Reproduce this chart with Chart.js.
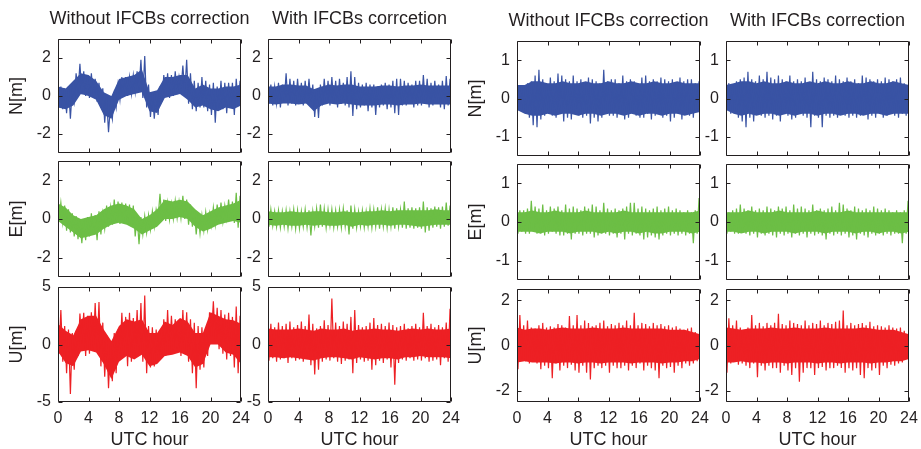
<!DOCTYPE html>
<html>
<head>
<meta charset="utf-8">
<script src="https://cdn.jsdelivr.net/npm/chart.js@4.4.1/dist/chart.umd.min.js"></script>
<style>
  html, body { margin: 0; padding: 0; background: #fff; overflow: hidden; }
  body { width: 921px; height: 449px; position: relative; font-family: "Liberation Sans", Arial, sans-serif; }
  canvas { position: absolute; }
  .head { position: absolute; width: 260px; text-align: center; font-size: 18px; line-height: 18px; color: #231f20; white-space: nowrap; }
</style>
</head>
<body>
<script>
// Eixos
const hourTicks = [0, 4, 8, 12, 16, 20, 24];
const leftNETicks = [-2, 0, 2];
const leftUTicks = [-5, 0, 5];
const rightNETicks = [-1, 0, 1];
const rightUTicks = [-2, 0, 2];
const headers = ['Without IFCBs correction', 'With IFCBs corrcetion', 'Without IFCBs correction', 'With IFCBs correction'];

// Envelope (max/min) de cada meia hora: 48 intervalos de 0 a 24 h
const binHours = Array.from({ length: 48 }, (_, i) => i * 0.5);
// Faixa densa (nucleo) lida a cada hora, de 0 a 24 h
const coreHours = Array.from({ length: 25 }, (_, i) => i);

// Grupo esquerdo - N
const lNWithoutHi = [0.5,0.4,0.5,0.4,1.2,1.7,1.3,1.1,1.2,0.9,0.7,0.4, -0.1,-0.5,0.1,0.6,1.0,1.0,1.0,1.1,1.3,1.9,2.1,0.6, 0.2,0.1,0.5,1.1,1.2,1.1,1.3,1.0,1.6,1.9,1.2,0.8, 0.7,1.0,0.8,0.6,0.7,0.5,0.8,0.7,0.7,0.7,0.9,0.8];
const lNWithoutLo = [-0.5,-0.7,-0.9,-1.2,-0.3,0.2,0.1,0.0,-0.1,0.0,-0.3,-0.6, -1.4,-1.9,-1.2,-0.6,-0.2,0.0,0.0,0.1,0.2,0.3,-0.1,-0.6, -1.1,-1.2,-1.0,-0.3,0.0,-0.1,0.0,0.1,0.3,0.2,-0.4,-0.7, -0.8,-0.6,-0.6,-0.8,-1.0,-1.4,-0.6,-0.7,-0.9,-0.6,-1.0,-0.5];
const lNWithoutCoreHi = [0.5,0.4,0.8,1.2,1.1,0.8,0.2,0.0,0.9,1.0,1.1,1.4,0.2,0.3,1.0,1.0,1.1,1.1,0.4,0.6,0.4,0.4,0.5,0.5,0.6];
const lNWithoutCoreLo = [-0.6,-0.7,-0.5,0.1,0.0,-0.2,-1.0,-1.2,-0.2,0.0,0.1,0.2,-0.8,-0.9,-0.1,0.0,0.1,-0.2,-0.6,-0.5,-0.7,-0.8,-0.6,-0.7,-0.5];
const lNWithHi = [0.6,0.5,0.7,0.6,1.2,0.9,0.8,0.9,0.7,0.8,0.9,0.6, 0.3,0.6,0.9,0.8,1.0,0.8,0.9,0.7,1.0,1.3,1.0,0.7, 0.6,0.7,0.6,0.6,0.5,0.6,0.7,0.6,0.8,0.9,0.9,0.8, 0.7,0.6,0.8,0.8,1.1,0.9,0.7,0.8,0.6,0.8,1.05,0.9];
const lNWithLo = [-0.4,-0.5,-0.4,-0.6,-0.3,-0.5,-0.4,-0.5,-0.3,-0.5,-0.4,-0.3, -1.1,-1.15,-0.5,-0.4,-0.5,-0.4,-0.6,-0.4,-0.5,-0.6,-1.05,-0.7, -0.6,-0.5,-0.8,-0.6,-1.0,-0.6,-0.5,-0.7,-0.6,-0.9,-1.0,-0.5, -0.5,-0.4,-0.6,-0.5,-0.5,-0.4,-0.6,-0.5,-0.4,-0.6,-0.7,-0.5];
const lNWithCoreHi = [0.5,0.5,0.6,0.6,0.55,0.55,0.35,0.5,0.6,0.55,0.6,0.6,0.5,0.5,0.5,0.55,0.55,0.5,0.55,0.55,0.6,0.55,0.55,0.55,0.55];
const lNWithCoreLo = [-0.4,-0.45,-0.4,-0.4,-0.45,-0.4,-0.8,-0.5,-0.4,-0.45,-0.4,-0.45,-0.5,-0.5,-0.5,-0.45,-0.45,-0.5,-0.45,-0.45,-0.4,-0.45,-0.45,-0.45,-0.45];

// Grupo esquerdo - E
const lEWithoutHi = [0.85,0.7,0.5,0.3,0.15,0.0,-0.1,0.1,0.3,0.2,0.4,0.3, 0.7,0.6,1.0,0.9,0.85,0.8,0.75,0.7,0.15,0.1,0.15,0.2, 0.4,0.5,1.3,1.0,0.85,0.8,0.95,0.9,1.2,1.0,0.75,0.5, 0.25,0.2,0.35,0.3,0.6,0.75,0.85,0.7,1.0,0.9,1.35,1.2];
const lEWithoutLo = [-0.05,-0.2,-0.6,-0.7,-0.9,-1.05,-1.25,-1.1,-0.9,-0.8,-1.1,-0.8, -0.5,-0.4,-0.3,-0.2,-0.25,-0.2,-0.3,-0.4,-0.9,-1.3,-0.8,-0.7, -0.55,-0.4,0.05,0.0,-0.1,-0.05,0.0,0.05,0.05,0.0,-0.3,-0.4, -0.8,-0.75,-0.6,-0.55,-0.35,-0.3,-0.2,-0.15,0.0,-0.1,-0.2,-0.45];
const lEWithoutCoreHi = [0.8,0.6,0.2,0.0,0.1,0.2,0.5,0.7,0.8,0.7,0.5,0.0,0.2,0.5,1.0,0.9,1.0,0.9,0.5,0.2,0.4,0.6,0.7,0.8,1.0];
const lEWithoutCoreLo = [-0.1,-0.4,-0.7,-1.0,-0.9,-0.8,-0.5,-0.3,-0.2,-0.3,-0.5,-0.8,-0.6,-0.4,0.0,0.0,0.1,0.0,-0.4,-0.65,-0.5,-0.3,-0.2,-0.1,-0.2];
const lEWithHi = [0.5,0.4,0.45,0.4,0.45,0.4,0.5,0.45,0.4,0.5,0.45,0.4, 0.55,0.75,0.55,0.5,0.5,0.45,0.5,0.55,0.45,0.7,0.5,0.4, 0.45,0.4,0.55,0.5,0.6,0.5,0.55,0.5,0.6,0.55,0.5,0.9, 0.55,0.6,0.55,0.6,0.9,0.6,0.55,0.65,0.6,0.65,0.85,0.7];
const lEWithLo = [-0.4,-0.35,-0.4,-0.45,-0.4,-0.5,-0.4,-0.5,-0.5,-0.4,-0.45,-0.85, -0.4,-0.45,-0.4,-0.45,-0.35,-0.45,-0.4,-0.45,-0.4,-0.8,-0.5,-0.45, -0.4,-0.45,-0.4,-0.45,-0.4,-0.5,-0.4,-0.45,-0.4,-0.5,-0.4,-0.45, -0.5,-0.45,-0.5,-0.45,-0.5,-0.7,-0.6,-0.45,-0.4,-0.5,-0.4,-0.35];
const lEWithCoreHi = [0.4,0.35,0.35,0.4,0.35,0.35,0.4,0.4,0.35,0.35,0.4,0.35,0.35,0.4,0.4,0.45,0.4,0.45,0.45,0.45,0.45,0.45,0.5,0.45,0.45];
const lEWithCoreLo = [-0.3,-0.35,-0.3,-0.35,-0.35,-0.3,-0.35,-0.3,-0.35,-0.35,-0.3,-0.4,-0.3,-0.35,-0.3,-0.3,-0.35,-0.3,-0.3,-0.35,-0.4,-0.35,-0.3,-0.3,-0.3];

// Grupo esquerdo - U
const lUWithoutHi = [3.0,1.6,1.3,1.0,1.2,2.7,2.75,2.5,2.8,3.6,3.7,1.9, 0.8,-0.1,1.0,1.3,2.75,2.4,2.75,2.3,3.0,3.6,4.25,1.6, 1.5,1.3,1.2,2.2,3.0,2.5,2.2,2.0,3.0,2.8,2.2,1.9, 1.6,1.5,1.4,2.8,3.75,3.2,3.0,2.6,2.75,2.4,3.3,2.5];
const lUWithoutLo = [-0.8,-1.5,-2.5,-4.3,-2.2,-1.0,0.1,-1.0,-0.8,-0.4,-0.5,-1.9, -2.8,-3.8,-3.2,-2.5,-1.0,-0.9,-1.9,-1.5,-1.0,-0.9,-1.5,-2.5, -2.0,-1.9,-1.5,-1.0,-1.0,-0.9,-0.4,-0.5,-1.0,-0.8,-1.5,-2.5, -3.8,-2.2,-2.0,-1.0,0.7,0.2,-0.4,-0.8,-1.3,-1.0,-2.0,-2.5];
const lUWithoutCoreHi = [1.8,1.2,0.8,2.2,2.5,2.5,1.3,0.3,1.6,2.2,2.0,2.2,1.0,1.0,2.0,1.7,2.3,2.0,1.0,1.0,2.8,2.5,2.2,2.1,1.8];
const lUWithoutCoreLo = [-0.6,-1.6,-1.9,-0.6,-0.5,-0.7,-1.7,-3.0,-1.5,-1.0,-1.3,-0.9,-1.9,-1.7,-1.0,-0.9,-0.7,-1.0,-2.0,-1.7,0.0,0.0,-0.7,-0.9,-1.7];
const lUWithHi = [1.8,1.5,1.9,1.6,1.8,2.0,1.5,1.7,2.0,1.6,2.6,1.8, 1.4,1.6,2.1,1.7,4.0,1.9,1.6,2.0,1.8,2.4,3.0,1.7, 1.5,1.6,1.9,2.3,1.7,1.8,1.6,1.9,1.7,1.5,1.6,1.8, 1.4,1.6,1.8,1.5,2.75,1.6,1.8,1.5,1.7,1.5,1.9,3.1];
const lUWithLo = [-1.4,-1.2,-1.5,-1.3,-1.2,-1.6,-1.2,-1.4,-1.3,-1.5,-1.2,-1.8, -2.6,-2.2,-1.5,-1.3,-1.4,-1.2,-1.5,-1.7,-1.4,-1.3,-2.5,-1.6, -1.3,-1.5,-1.4,-2.2,-1.8,-1.4,-1.6,-1.3,-2.0,-3.5,-1.6,-1.3, -1.4,-1.2,-1.4,-1.3,-1.4,-1.2,-1.5,-1.4,-1.3,-1.8,-1.2,-1.5];
const lUWithCoreHi = [1.4,1.3,1.3,1.3,1.4,1.3,1.2,1.4,1.3,1.3,1.4,1.2,1.3,1.3,1.4,1.3,1.3,1.2,1.3,1.4,1.3,1.4,1.3,1.3,1.4];
const lUWithCoreLo = [-1.1,-1.1,-1.2,-1.1,-1.2,-1.3,-1.4,-1.2,-1.1,-1.1,-1.2,-1.3,-1.1,-1.2,-1.3,-1.2,-1.2,-1.3,-1.1,-1.1,-1.0,-1.1,-1.1,-1.1,-1.2];

// Grupo direito - N
const rNWithoutHi = [0.35,0.3,0.4,0.45,0.6,0.75,0.5,0.4,0.55,0.45,0.65,0.6, 0.5,0.45,0.6,0.45,0.5,0.4,0.55,0.5,0.45,0.4,0.75,0.45, 0.5,0.5,0.4,0.6,0.45,0.5,0.45,0.4,0.55,0.6,0.45,0.5, 0.45,0.55,0.5,0.45,0.5,0.4,0.55,0.45,0.5,0.5,0.4,0.45];
const rNWithoutLo = [-0.3,-0.35,-0.4,-0.5,-0.7,-0.75,-0.55,-0.45,-0.4,-0.45,-0.5,-0.4, -0.6,-0.5,-0.55,-0.4,-0.45,-0.5,-0.45,-0.65,-0.5,-0.6,-0.5,-0.4, -0.45,-0.45,-0.5,-0.4,-0.55,-0.5,-0.4,-0.45,-0.5,-0.5,-0.4,-0.55, -0.45,-0.4,-0.5,-0.45,-0.6,-0.5,-0.4,-0.55,-0.4,-0.45,-0.5,-0.35];
const rNWithoutCoreHi = [0.35,0.35,0.45,0.45,0.4,0.4,0.45,0.4,0.4,0.45,0.4,0.4,0.45,0.4,0.4,0.45,0.4,0.4,0.45,0.4,0.4,0.45,0.4,0.4,0.4];
const rNWithoutCoreLo = [-0.3,-0.4,-0.45,-0.45,-0.4,-0.45,-0.4,-0.4,-0.45,-0.4,-0.4,-0.45,-0.4,-0.4,-0.45,-0.4,-0.45,-0.4,-0.4,-0.45,-0.4,-0.4,-0.45,-0.4,-0.35];
const rNWithHi = [0.4,0.35,0.45,0.5,0.55,0.7,0.5,0.45,0.6,0.5,0.7,0.55, 0.5,0.6,0.5,0.45,0.6,0.45,0.5,0.45,0.55,0.4,0.7,0.5, 0.45,0.55,0.5,0.45,0.6,0.5,0.45,0.55,0.45,0.5,0.4,0.6, 0.55,0.5,0.45,0.5,0.45,0.55,0.5,0.45,0.5,0.55,0.4,0.35];
const rNWithLo = [-0.3,-0.4,-0.35,-0.5,-0.6,-0.75,-0.5,-0.6,-0.4,-0.45,-0.5,-0.45, -0.55,-0.45,-0.6,-0.4,-0.45,-0.55,-0.5,-0.4,-0.45,-0.5,-0.75,-0.45, -0.5,-0.75,-0.45,-0.5,-0.45,-0.5,-0.4,-0.45,-0.5,-0.45,-0.5,-0.45, -0.4,-0.55,-0.45,-0.5,-0.4,-0.5,-0.45,-0.4,-0.45,-0.5,-0.4,-0.45];
const rNWithCoreHi = [0.35,0.4,0.45,0.45,0.4,0.45,0.4,0.4,0.45,0.4,0.4,0.45,0.4,0.45,0.4,0.4,0.45,0.4,0.4,0.45,0.4,0.4,0.45,0.4,0.35];
const rNWithCoreLo = [-0.3,-0.4,-0.45,-0.4,-0.45,-0.4,-0.4,-0.45,-0.4,-0.45,-0.4,-0.4,-0.45,-0.4,-0.4,-0.45,-0.4,-0.4,-0.45,-0.4,-0.4,-0.45,-0.4,-0.4,-0.4];

// Grupo direito - E
const rEWithoutHi = [0.3,0.3,0.35,0.55,0.4,0.35,0.45,0.3,0.4,0.35,0.4,0.3, 0.45,0.35,0.4,0.35,0.3,0.4,0.35,0.45,0.4,0.3,0.5,0.35, 0.3,0.35,0.3,0.35,0.4,0.5,0.5,0.35,0.4,0.35,0.3,0.35, 0.4,0.3,0.35,0.4,0.3,0.35,0.3,0.25,0.3,0.25,0.3,0.62];
const rEWithoutLo = [-0.3,-0.25,-0.3,-0.3,-0.25,-0.3,-0.3,-0.35,-0.3,-0.25,-0.3,-0.35, -0.35,-0.3,-0.45,-0.3,-0.3,-0.35,-0.3,-0.3,-0.4,-0.35,-0.3,-0.3, -0.35,-0.3,-0.4,-0.3,-0.45,-0.3,-0.35,-0.3,-0.35,-0.45,-0.4,-0.35, -0.4,-0.45,-0.35,-0.3,-0.35,-0.3,-0.35,-0.3,-0.35,-0.3,-0.55,-0.3];
const rEWithoutCoreHi = [0.25,0.25,0.3,0.25,0.25,0.3,0.25,0.25,0.25,0.3,0.25,0.25,0.25,0.25,0.3,0.25,0.25,0.25,0.25,0.25,0.25,0.25,0.25,0.25,0.3];
const rEWithoutCoreLo = [-0.25,-0.25,-0.25,-0.3,-0.25,-0.25,-0.25,-0.3,-0.25,-0.25,-0.25,-0.3,-0.25,-0.3,-0.25,-0.25,-0.3,-0.25,-0.3,-0.3,-0.25,-0.25,-0.25,-0.3,-0.25];
const rEWithHi = [0.25,0.3,0.35,0.45,0.35,0.3,0.4,0.3,0.35,0.3,0.4,0.35, 0.3,0.4,0.35,0.4,0.3,0.45,0.35,0.4,0.35,0.3,0.45,0.3, 0.35,0.3,0.35,0.4,0.3,0.5,0.45,0.35,0.3,0.4,0.35,0.3, 0.35,0.3,0.4,0.35,0.3,0.35,0.3,0.25,0.3,0.25,0.3,0.55];
const rEWithLo = [-0.3,-0.25,-0.3,-0.3,-0.25,-0.3,-0.35,-0.3,-0.4,-0.3,-0.35,-0.3, -0.35,-0.4,-0.3,-0.35,-0.3,-0.4,-0.3,-0.35,-0.3,-0.4,-0.3,-0.35, -0.3,-0.35,-0.45,-0.3,-0.35,-0.3,-0.35,-0.3,-0.4,-0.35,-0.45,-0.3, -0.35,-0.4,-0.3,-0.35,-0.3,-0.35,-0.3,-0.35,-0.3,-0.3,-0.55,-0.3];
const rEWithCoreHi = [0.25,0.25,0.25,0.3,0.25,0.25,0.25,0.3,0.25,0.25,0.25,0.25,0.3,0.25,0.25,0.25,0.3,0.25,0.25,0.25,0.25,0.25,0.25,0.25,0.25];
const rEWithCoreLo = [-0.25,-0.25,-0.3,-0.25,-0.25,-0.3,-0.25,-0.25,-0.25,-0.3,-0.25,-0.25,-0.25,-0.3,-0.25,-0.25,-0.25,-0.3,-0.25,-0.25,-0.3,-0.25,-0.25,-0.3,-0.25];

// Grupo direito - U
const rUWithoutHi = [1.35,0.9,1.1,0.8,0.75,0.9,1.0,0.8,0.85,0.8,0.95,0.9, 0.8,1.3,0.9,1.35,0.9,1.1,1.0,0.85,0.9,1.0,1.1,0.85, 0.95,0.9,1.0,0.9,1.1,0.9,1.45,0.9,1.0,0.95,0.85,1.0, 0.9,0.95,0.85,0.9,0.8,0.85,0.75,0.7,0.75,0.8,0.6,0.45];
const rUWithoutLo = [-1.05,-0.6,-0.7,-0.8,-0.7,-0.8,-1.05,-0.9,-1.0,-1.45,-0.8,-1.1, -0.9,-1.0,-0.85,-1.1,-1.2,-0.9,-1.2,-1.5,-1.0,-0.9,-1.0,-0.9, -1.2,-0.9,-1.0,-1.0,-0.9,-1.1,-0.9,-1.0,-0.8,-1.1,-0.9,-1.0, -1.1,-1.45,-0.9,-1.0,-0.95,-1.2,-0.9,-1.0,-0.8,-0.9,-0.8,-0.7];
const rUWithoutCoreHi = [0.8,0.7,0.75,0.75,0.7,0.75,0.8,0.75,0.75,0.75,0.8,0.75,0.75,0.75,0.8,0.75,0.75,0.75,0.75,0.75,0.7,0.7,0.7,0.6,0.5];
const rUWithoutCoreLo = [-0.75,-0.7,-0.75,-0.75,-0.75,-0.8,-0.75,-0.75,-0.8,-0.75,-0.75,-0.8,-0.75,-0.75,-0.75,-0.8,-0.75,-0.75,-0.75,-0.8,-0.75,-0.75,-0.7,-0.7,-0.6];
const rUWithHi = [1.2,0.9,1.1,0.8,0.7,0.8,1.35,0.9,1.0,0.85,1.0,0.9, 1.0,1.4,0.95,0.9,1.1,1.0,0.95,0.9,1.1,0.9,1.0,0.95, 1.1,0.9,1.0,0.95,1.05,1.1,1.55,0.9,1.0,0.9,0.95,1.0, 0.9,1.05,0.85,0.9,0.85,0.8,0.9,0.8,0.75,0.8,0.65,0.5];
const rUWithLo = [-1.2,-0.8,-0.7,-0.85,-0.8,-0.9,-1.0,-0.8,-1.4,-0.9,-1.1,-0.9, -1.0,-1.0,-1.2,-0.9,-1.1,-1.3,-1.0,-1.6,-1.2,-1.0,-1.0,-1.3, -1.0,-0.95,-1.1,-1.0,-1.0,-0.9,-1.0,-1.2,-1.0,-1.1,-1.0,-1.3, -1.45,-1.0,-1.1,-1.0,-1.3,-0.9,-1.0,-0.85,-0.9,-0.8,-0.75,-0.6];
const rUWithCoreHi = [0.8,0.75,0.7,0.75,0.75,0.75,0.8,0.75,0.75,0.8,0.75,0.75,0.75,0.8,0.75,0.75,0.75,0.75,0.8,0.75,0.7,0.7,0.7,0.6,0.5];
const rUWithCoreLo = [-0.75,-0.75,-0.7,-0.75,-0.75,-0.8,-0.75,-0.75,-0.8,-0.75,-0.75,-0.75,-0.8,-0.75,-0.75,-0.8,-0.75,-0.75,-0.75,-0.8,-0.75,-0.75,-0.7,-0.7,-0.6];

const BLUE = '#3953a4';
const GREEN = '#6cbe45';
const RED = '#ed2024';
const TEXT = '#231f20';
const FONT = '"Liberation Sans", Arial, sans-serif';

// Posicao das areas de plotagem (px)
const colLeft = [58, 268, 517, 726];
const plotW = 183;
const rowsLeft = [[39, 153], [161, 277], [287, 402]];
const rowsRight = [[41, 156], [164, 280], [289, 402]];

const panels = [
  { col: 0, row: 0, hi: lNWithoutHi, lo: lNWithoutLo, cHi: lNWithoutCoreHi, cLo: lNWithoutCoreLo, color: BLUE, range: 3, yTicks: leftNETicks, yTitle: 'N[m]' },
  { col: 1, row: 0, hi: lNWithHi, lo: lNWithLo, cHi: lNWithCoreHi, cLo: lNWithCoreLo, color: BLUE, range: 3, yTicks: leftNETicks },
  { col: 0, row: 1, hi: lEWithoutHi, lo: lEWithoutLo, cHi: lEWithoutCoreHi, cLo: lEWithoutCoreLo, color: GREEN, range: 3, yTicks: leftNETicks, yTitle: 'E[m]' },
  { col: 1, row: 1, hi: lEWithHi, lo: lEWithLo, cHi: lEWithCoreHi, cLo: lEWithCoreLo, color: GREEN, range: 3, yTicks: leftNETicks },
  { col: 0, row: 2, hi: lUWithoutHi, lo: lUWithoutLo, cHi: lUWithoutCoreHi, cLo: lUWithoutCoreLo, color: RED, range: 5, yTicks: leftUTicks, yTitle: 'U[m]' },
  { col: 1, row: 2, hi: lUWithHi, lo: lUWithLo, cHi: lUWithCoreHi, cLo: lUWithCoreLo, color: RED, range: 5, yTicks: leftUTicks },
  { col: 2, row: 0, hi: rNWithoutHi, lo: rNWithoutLo, cHi: rNWithoutCoreHi, cLo: rNWithoutCoreLo, color: BLUE, range: 1.5, yTicks: rightNETicks, yTitle: 'N[m]' },
  { col: 3, row: 0, hi: rNWithHi, lo: rNWithLo, cHi: rNWithCoreHi, cLo: rNWithCoreLo, color: BLUE, range: 1.5, yTicks: rightNETicks },
  { col: 2, row: 1, hi: rEWithoutHi, lo: rEWithoutLo, cHi: rEWithoutCoreHi, cLo: rEWithoutCoreLo, color: GREEN, range: 1.5, yTicks: rightNETicks, yTitle: 'E[m]' },
  { col: 3, row: 1, hi: rEWithHi, lo: rEWithLo, cHi: rEWithCoreHi, cLo: rEWithCoreLo, color: GREEN, range: 1.5, yTicks: rightNETicks },
  { col: 2, row: 2, hi: rUWithoutHi, lo: rUWithoutLo, cHi: rUWithoutCoreHi, cLo: rUWithoutCoreLo, color: RED, range: 2.5, yTicks: rightUTicks, yTitle: 'U[m]' },
  { col: 3, row: 2, hi: rUWithHi, lo: rUWithLo, cHi: rUWithCoreHi, cLo: rUWithCoreLo, color: RED, range: 2.5, yTicks: rightUTicks },
];

// Liga minimo e maximo de cada intervalo em zigue-zague
function zigzag(hi, lo) {
  const pts = [];
  binHours.forEach((h, i) => {
    pts.push({ x: h + 0.125, y: lo[i] });
    pts.push({ x: h + 0.375, y: hi[i] });
  });
  return pts;
}

function hourly(vals) {
  return coreHours.map((h, i) => ({ x: h, y: vals[i] }));
}

// Moldura e marcas de escala para dentro (estilo MATLAB)
const frame = {
  id: 'frame',
  afterDatasetsDraw(chart) {
    const { ctx, chartArea: a, scales: { x, y } } = chart;
    const L = Math.round(a.left) + 0.5, R = Math.round(a.right) - 0.5;
    const T = Math.round(a.top) + 0.5, B = Math.round(a.bottom) - 0.5;
    ctx.save();
    ctx.strokeStyle = TEXT;
    ctx.lineWidth = 1;
    ctx.beginPath();
    x.ticks.forEach(t => {
      const px = Math.round(x.getPixelForValue(t.value)) + 0.5;
      ctx.moveTo(px, B); ctx.lineTo(px, B - 4);
      ctx.moveTo(px, T); ctx.lineTo(px, T + 4);
    });
    y.ticks.forEach(t => {
      const py = Math.round(y.getPixelForValue(t.value)) + 0.5;
      ctx.moveTo(L, py); ctx.lineTo(L + 4, py);
      ctx.moveTo(R, py); ctx.lineTo(R - 4, py);
    });
    ctx.rect(L, T, R - L, B - T);
    ctx.stroke();
    ctx.restore();
  }
};

function makePanel(p) {
  const left = colLeft[p.col];
  const [top, bottom] = (p.col < 2 ? rowsLeft : rowsRight)[p.row];
  const yw = p.yTitle ? 55 : 40;
  const bottomRow = p.row === 2;
  const padT = 20, padR = 20, padB = bottomRow ? 0 : 20;
  const xh = bottomRow ? 49 : 0;

  const cv = document.createElement('canvas');
  cv.width = yw + plotW + padR;
  cv.height = padT + (bottom - top) + xh + padB;
  cv.style.left = (left - yw) + 'px';
  cv.style.top = (top - padT) + 'px';
  document.body.appendChild(cv);

  new Chart(cv, {
    type: 'line',
    data: {
      datasets: [
        { data: zigzag(p.hi, p.lo), borderColor: p.color, borderWidth: 1.2, pointRadius: 0, tension: 0, fill: false },
        { data: hourly(p.cHi), borderWidth: 0, borderColor: p.color, backgroundColor: p.color, pointRadius: 0, tension: 0, fill: '+1' },
        { data: hourly(p.cLo), borderWidth: 0, borderColor: p.color, pointRadius: 0, tension: 0, fill: false }
      ]
    },
    options: {
      responsive: false,
      animation: false,
      events: [],
      layout: { padding: { top: padT, right: padR, bottom: padB, left: 0 } },
      plugins: { legend: { display: false }, tooltip: { enabled: false } },
      scales: {
        x: {
          type: 'linear', min: 0, max: 24,
          grid: { display: false, drawTicks: false }, border: { display: false },
          afterBuildTicks: s => { s.ticks = hourTicks.map(v => ({ value: v })); },
          afterFit: s => { s.height = xh; },
          ticks: { display: bottomRow, padding: 7, color: TEXT, maxRotation: 0, autoSkip: false, font: { size: 16, family: FONT } },
          title: { display: bottomRow, text: 'UTC hour', color: TEXT, padding: { top: 0, bottom: 0 }, font: { size: 18, family: FONT } }
        },
        y: {
          min: -p.range, max: p.range,
          grid: { display: false, drawTicks: false }, border: { display: false },
          afterBuildTicks: s => { s.ticks = p.yTicks.map(v => ({ value: v })); },
          afterFit: s => { s.width = yw; },
          ticks: { padding: 7, color: TEXT, autoSkip: false, font: { size: 16, family: FONT } },
          title: { display: !!p.yTitle, text: p.yTitle || '', color: TEXT, padding: { top: 3, bottom: 0 }, font: { size: 18, family: FONT } }
        }
      }
    },
    plugins: [frame]
  });
}

panels.forEach(makePanel);

// Titulos das colunas
headers.forEach((txt, i) => {
  const d = document.createElement('div');
  d.className = 'head';
  d.textContent = txt;
  d.style.left = (colLeft[i] + plotW / 2 - 130) + 'px';
  d.style.top = (i < 2 ? 9 : 11) + 'px';
  document.body.appendChild(d);
});
</script>
</body>
</html>
